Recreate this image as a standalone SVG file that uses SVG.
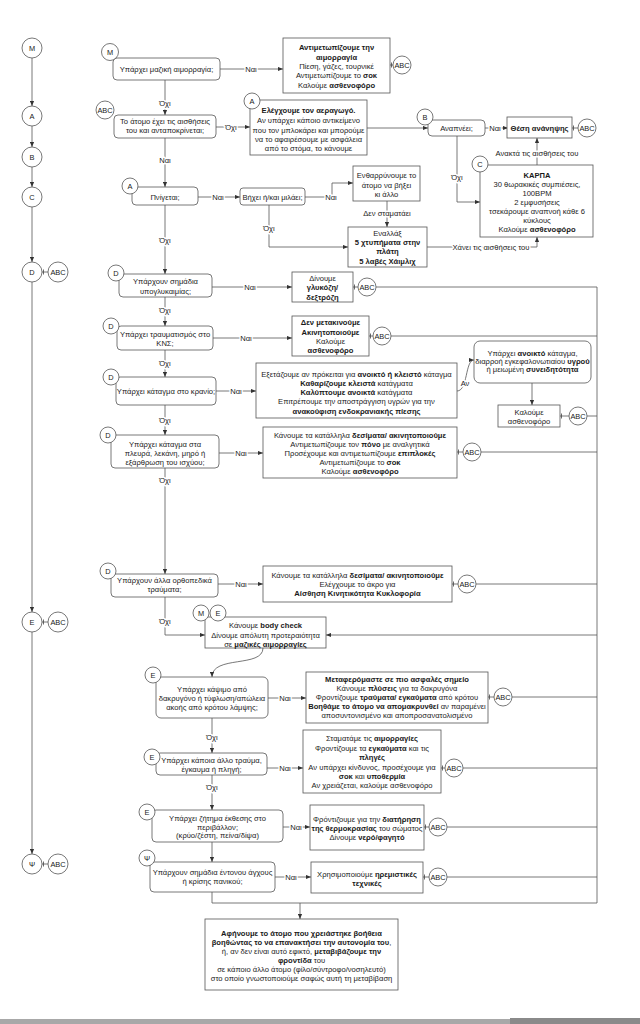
<svg xmlns="http://www.w3.org/2000/svg" width="640" height="1024" viewBox="0 0 640 1024">
<style>
text{font-family:"Liberation Sans",Arial,"DejaVu Sans",sans-serif;font-size:7.6px;fill:#1a1a1a;text-anchor:middle;dominant-baseline:central}
.b{font-weight:bold}
.box{fill:#fff;stroke:#555;stroke-width:0.8}
.cir{fill:#fff;stroke:#555;stroke-width:0.8}
.ln{fill:none;stroke:#555;stroke-width:0.8}
.ar{marker-end:url(#ah)}
.tk{marker-start:url(#tick)}
.lbl{paint-order:stroke;stroke:#fff;stroke-width:3px;stroke-linejoin:round}
.cl{font-size:7.4px}
</style>
<defs>
<marker id="ah" viewBox="0 0 6 6" refX="6" refY="3" markerWidth="5" markerHeight="5" markerUnits="userSpaceOnUse" orient="auto"><path d="M0,0.5L6,3L0,5.5z" fill="#333"/></marker>
<marker id="tick" viewBox="0 0 4 6" refX="0" refY="3" markerWidth="4" markerHeight="6" markerUnits="userSpaceOnUse" orient="auto"><path d="M1.5,0.5V5.5" stroke="#444" stroke-width="0.8"/></marker>
</defs>
<rect width="640" height="1024" fill="#fff"/>

<g id="connectors">
<path class="ln ar" d="M32,58V106"/>
<path class="ln ar" d="M32,126V147"/>
<path class="ln ar" d="M32,167V187"/>
<path class="ln ar" d="M32,207V262"/>
<path class="ln ar" d="M32,282V612"/>
<path class="ln ar" d="M32,632V854"/>
<path class="ln tk" d="M42,272H48"/>
<path class="ln tk" d="M42,622H48"/>
<path class="ln tk" d="M42,864H48"/>
<path class="ln ar" d="M220,69H283"/>
<text class="lbl" x="251" y="69">Ναι</text>
<path class="ln tk" d="M390,65H393"/>
<path class="ln ar" d="M165,80V115"/>
<text class="lbl" x="165" y="103">Όχι</text>
<path class="ln ar" d="M216,127H250"/>
<text class="lbl" x="231" y="127">Όχι</text>
<path class="ln ar" d="M367,128H428"/>
<path class="ln ar" d="M485,128H508"/>
<text class="lbl" x="495" y="128">Ναι</text>
<path class="ln tk" d="M572,128H578"/>
<path class="ln ar" d="M457,136V202H480"/>
<text class="lbl" x="457" y="177">Όχι</text>
<path class="ln ar" d="M537,165V138"/>
<text class="lbl" x="537" y="153">Ανακτά τις αισθήσεις του</text>
<path class="ln ar" d="M165,138V187"/>
<text class="lbl" x="165" y="160">Ναι</text>
<path class="ln ar" d="M198,197H240"/>
<text class="lbl" x="218" y="197">Ναι</text>
<path class="ln ar" d="M305,197H332V183H353"/>
<text class="lbl" x="331" y="197">Ναι</text>
<path class="ln ar" d="M387,201V227"/>
<text class="lbl" x="387" y="213">Δεν σταματάει</text>
<path class="ln ar" d="M269,205V247H348"/>
<text class="lbl" x="269" y="228">Όχι</text>
<path class="ln ar" d="M427,247H537V237"/>
<text class="lbl" x="491" y="247">Χάνει τις αισθήσεις του</text>
<path class="ln ar" d="M165,205V274"/>
<text class="lbl" x="165" y="240">Όχι</text>
<path class="ln ar" d="M212,287H292"/>
<text class="lbl" x="250" y="287">Ναι</text>
<path class="ln tk" d="M353,287H358"/>
<path class="ln" d="M376,287H597V903"/>
<path class="ln ar" d="M165,297V326"/>
<text class="lbl" x="165" y="310">Όχι</text>
<path class="ln ar" d="M213,338H292"/>
<text class="lbl" x="246" y="338">Ναι</text>
<path class="ln tk" d="M369,336H373"/>
<path class="ln" d="M391,336H597"/>
<path class="ln ar" d="M165,350V377"/>
<text class="lbl" x="165" y="363">Όχι</text>
<path class="ln ar" d="M216,391H256"/>
<text class="lbl" x="236" y="391">Ναι</text>
<path class="ln ar" d="M457,391C468,391 465,360 474,360"/>
<text class="lbl" x="465" y="383">Αν</text>
<path class="ln ar" d="M532,383V405"/>
<path class="ln tk" d="M560,416H569"/>
<path class="ln" d="M587,416H597"/>
<path class="ln ar" d="M165,405V435"/>
<text class="lbl" x="165" y="420">Όχι</text>
<path class="ln ar" d="M219,453H263"/>
<text class="lbl" x="241" y="453">Ναι</text>
<path class="ln tk" d="M457,452H463"/>
<path class="ln" d="M481,452H597"/>
<path class="ln ar" d="M165,468V574"/>
<text class="lbl" x="165" y="480">Όχι</text>
<path class="ln ar" d="M218,584H263"/>
<text class="lbl" x="241" y="584">Ναι</text>
<path class="ln tk" d="M452,584H458"/>
<path class="ln" d="M476,584H597"/>
<path class="ln ar" d="M165,597V635H205"/>
<text class="lbl" x="165" y="621">Όχι</text>
<path class="ln ar" d="M597,635H326"/>
<path class="ln ar" d="M263,648C263,668 212,655 212,677"/>
<path class="ln ar" d="M267,698H306"/>
<text class="lbl" x="285" y="698">Ναι</text>
<path class="ln tk" d="M488,697H494"/>
<path class="ln" d="M512,697H597"/>
<path class="ln ar" d="M212,718V753"/>
<text class="lbl" x="212" y="737">Όχι</text>
<path class="ln ar" d="M267,768H303"/>
<text class="lbl" x="285" y="768">Ναι</text>
<path class="ln tk" d="M441,768H445"/>
<path class="ln" d="M463,768H597"/>
<path class="ln ar" d="M212,775V810"/>
<text class="lbl" x="212" y="787">Όχι</text>
<path class="ln ar" d="M283,827H310"/>
<text class="lbl" x="296" y="827">Ναι</text>
<path class="ln tk" d="M424,827H429"/>
<path class="ln" d="M447,827H597"/>
<path class="ln ar" d="M212,842V862"/>
<path class="ln ar" d="M275,877H311"/>
<text class="lbl" x="291" y="877">Ναι</text>
<path class="ln tk" d="M423,877H429"/>
<path class="ln" d="M447,877H597"/>
<path class="ln" d="M212,892V903H597"/>
<path class="ln ar" d="M300,903V919"/>
</g>

<g id="side-M"><circle class="cir" cx="32" cy="48" r="10"/><text class="cl" x="32" y="48">M</text></g>
<g id="side-A"><circle class="cir" cx="32" cy="116" r="10"/><text class="cl" x="32" y="116">A</text></g>
<g id="side-B"><circle class="cir" cx="32" cy="157" r="10"/><text class="cl" x="32" y="157">B</text></g>
<g id="side-C"><circle class="cir" cx="32" cy="197" r="10"/><text class="cl" x="32" y="197">C</text></g>
<g id="side-D"><circle class="cir" cx="32" cy="272" r="10"/><text class="cl" x="32" y="272">D</text><circle class="cir" cx="58" cy="272" r="10"/><text class="cl" x="58" y="272">ABC</text></g>
<g id="side-E"><circle class="cir" cx="32" cy="622" r="10"/><text class="cl" x="32" y="622">E</text><circle class="cir" cx="58" cy="622" r="10"/><text class="cl" x="58" y="622">ABC</text></g>
<g id="side-Psi"><circle class="cir" cx="32" cy="864" r="10"/><text class="cl" x="32" y="864">Ψ</text><circle class="cir" cx="58" cy="864" r="10"/><text class="cl" x="58" y="864">ABC</text></g>

<g id="q-bleed"><rect class="box" x="113" y="58" width="107" height="22" rx="4"/><circle class="cir" cx="110" cy="52" r="8.5"/><text class="cl" x="110" y="52">M</text><text x="166.5" y="69">Υπάρχει μαζική αιμορραγία;</text></g>
<g id="a-bleed"><rect class="box" x="283" y="38" width="107" height="55"/>
<text x="336.5" y="47" class="b">Αντιμετωπίζουμε την</text>
<text x="336.5" y="57" class="b">αιμορραγία</text>
<text x="336.5" y="66">Πίεση, γάζες, τουρνικέ</text>
<text x="336.5" y="75">Αντιμετωπίζουμε το <tspan class="b">σοκ</tspan></text>
<text x="336.5" y="85">Καλούμε <tspan class="b">ασθενοφόρο</tspan></text>
<circle class="cir" cx="402" cy="65" r="9"/><text class="cl" x="402" y="65">ABC</text></g>

<g id="q-conscious"><rect class="box" x="114" y="115" width="102" height="23" rx="4"/><circle class="cir" cx="105" cy="110" r="9"/><text class="cl" x="105" y="110">ABC</text>
<text x="165" y="121">Το άτομο έχει τις αισθήσεις</text><text x="165" y="130">του και ανταποκρίνεται;</text></g>

<g id="a-airway"><rect class="box" x="250" y="100" width="117" height="55"/><circle class="cir" cx="252" cy="101" r="8"/><text class="cl" x="252" y="101">A</text>
<text x="308.5" y="110" class="b">Ελέγχουμε τον αεραγωγό.</text>
<text x="308.5" y="120">Αν υπάρχει κάποιο αντικείμενο</text>
<text x="308.5" y="130">που τον μπλοκάρει και μπορούμε</text>
<text x="308.5" y="139">να το αφαιρέσουμε με ασφάλεια</text>
<text x="308.5" y="148">από το στόμα, το κάνουμε</text></g>

<g id="q-breath"><rect class="box" x="428" y="120" width="57" height="16" rx="4"/><circle class="cir" cx="425" cy="117" r="8"/><text class="cl" x="425" y="117">B</text><text x="456.5" y="128">Αναπνέει;</text></g>
<g id="a-recovery"><rect class="box" x="507" y="117" width="65" height="21"/><text x="539.5" y="128" class="b">Θέση ανάνηψης</text><circle class="cir" cx="587" cy="128" r="9"/><text class="cl" x="587" y="128">ABC</text></g>

<g id="a-cpr"><rect class="box" x="480" y="165" width="113" height="72"/><circle class="cir" cx="480" cy="164" r="8"/><text class="cl" x="480" y="164">C</text>
<text x="537" y="175" class="b">ΚΑΡΠΑ</text>
<text x="537" y="184">30 θωρακικές συμπιέσεις,</text>
<text x="537" y="193">100BPM</text>
<text x="537" y="202">2 εμφυσήσεις</text>
<text x="537" y="211">τσεκάρουμε αναπνοή κάθε 6</text>
<text x="537" y="220">κύκλους</text>
<text x="537" y="229">Καλούμε <tspan class="b">ασθενοφόρο</tspan></text></g>

<g id="q-choke"><rect class="box" x="132" y="187" width="66" height="18" rx="4"/><circle class="cir" cx="130" cy="186" r="8"/><text class="cl" x="130" y="186">A</text><text x="165" y="197">Πνίγεται;</text></g>
<g id="q-cough"><rect class="box" x="240" y="188" width="65" height="17" rx="3"/><text x="272.5" y="197">Βήχει ή/και μιλάει;</text></g>
<g id="a-encourage"><rect class="box" x="353" y="166" width="67" height="35"/><text x="386.5" y="175">Ενθαρρύνουμε το</text><text x="386.5" y="185">άτομο να βήξει</text><text x="386.5" y="194">κι άλλο</text></g>
<g id="a-heimlich"><rect class="box" x="348" y="227" width="79" height="40"/>
<text x="387.5" y="233">Εναλλάξ</text>
<text x="387.5" y="242" class="b">5 χτυπήματα στην</text>
<text x="387.5" y="251" class="b">πλάτη</text>
<text x="387.5" y="261" class="b">5 λαβές Χάιμλιχ</text></g>

<g id="q-hypo"><rect class="box" x="119" y="274" width="93" height="23" rx="4"/><circle class="cir" cx="116" cy="273" r="8"/><text class="cl" x="116" y="273">D</text><text x="165.5" y="281">Υπάρχουν σημάδια</text><text x="165.5" y="291">υπογλυκαιμίας;</text></g>
<g id="a-hypo"><rect class="box" x="292" y="272" width="61" height="30"/><text x="322.5" y="278">Δίνουμε</text><text x="322.5" y="287" class="b">γλυκόζη/</text><text x="322.5" y="297" class="b">δεξτρόζη</text><circle class="cir" cx="367" cy="287" r="9"/><text class="cl" x="367" y="287">ABC</text></g>

<g id="q-cns"><rect class="box" x="117" y="326" width="96" height="24" rx="4"/><circle class="cir" cx="111" cy="326" r="8"/><text class="cl" x="111" y="326">D</text><text x="165" y="334">Υπάρχει τραυματισμός στο</text><text x="165" y="343">ΚΝΣ;</text></g>
<g id="a-cns"><rect class="box" x="292" y="316" width="77" height="40"/><text x="330.5" y="322" class="b">Δεν μετακινούμε</text><text x="330.5" y="332" class="b">Ακινητοποιούμε</text><text x="330.5" y="341">Καλούμε</text><text x="330.5" y="350" class="b">ασθενοφόρο</text><circle class="cir" cx="382" cy="336" r="9"/><text class="cl" x="382" y="336">ABC</text></g>

<g id="q-skull"><rect class="box" x="116" y="377" width="100" height="28" rx="4"/><circle class="cir" cx="111" cy="377" r="8"/><text class="cl" x="111" y="377">D</text><text x="166" y="391">Υπάρχει κάταγμα στο κρανίο;</text></g>
<g id="a-skull"><rect class="box" x="256" y="363" width="201" height="55"/>
<text x="356.5" y="374">Εξετάζουμε αν πρόκειται για <tspan class="b">ανοικτό ή κλειστό</tspan> κάταγμα</text>
<text x="356.5" y="383"><tspan class="b">Καθαρίζουμε κλειστά</tspan> κατάγματα</text>
<text x="356.5" y="392"><tspan class="b">Καλύπτουμε ανοικτά</tspan> κατάγματα</text>
<text x="356.5" y="401">Επιτρέπουμε την αποστράγγιση υγρών για την</text>
<text x="356.5" y="411" class="b">ανακούφιση ενδοκρανιακής πίεσης</text></g>
<g id="q-open"><rect class="box" x="474" y="341" width="117" height="42" rx="6"/>
<text x="532.5" y="353">Υπάρχει <tspan class="b">ανοικτό</tspan> κάταγμα,</text>
<text x="532.5" y="361">διαρροή εγκεφαλονωτιαίου <tspan class="b">υγρού</tspan></text>
<text x="532.5" y="369">ή μειωμένη <tspan class="b">συνειδητότητα</tspan></text></g>
<g id="a-open"><rect class="box" x="498" y="405" width="62" height="22"/><text x="529" y="412">Καλούμε</text><text x="529" y="421">ασθενοφόρο</text><circle class="cir" cx="578" cy="416" r="9"/><text class="cl" x="578" y="416">ABC</text></g>

<g id="q-pelvis"><rect class="box" x="111" y="435" width="108" height="33" rx="4"/><circle class="cir" cx="108" cy="435" r="8"/><text class="cl" x="108" y="435">D</text>
<text x="165" y="444">Υπάρχει κάταγμα στα</text><text x="165" y="453">πλευρά, λεκάνη, μηρό ή</text><text x="165" y="462">εξάρθρωση του ισχύου;</text></g>
<g id="a-pelvis"><rect class="box" x="263" y="427" width="194" height="51"/>
<text x="360" y="435">Κάνουμε τα κατάλληλα <tspan class="b">δεσίματα/ ακινητοποιούμε</tspan></text>
<text x="360" y="444">Αντιμετωπίζουμε τον <tspan class="b">πόνο</tspan> με αναλγητικά</text>
<text x="360" y="453">Προσέχουμε και αντιμετωπίζουμε <tspan class="b">επιπλοκές</tspan></text>
<text x="360" y="462">Αντιμετωπίζουμε το <tspan class="b">σοκ</tspan></text>
<text x="360" y="471">Καλούμε <tspan class="b">ασθενοφόρο</tspan></text>
<circle class="cir" cx="472" cy="452" r="9"/><text class="cl" x="472" y="452">ABC</text></g>

<g id="q-ortho"><rect class="box" x="111" y="574" width="107" height="23" rx="4"/><circle class="cir" cx="108" cy="571" r="8"/><text class="cl" x="108" y="571">D</text><text x="164.5" y="580">Υπάρχουν άλλα ορθοπεδικά</text><text x="164.5" y="589">τραύματα;</text></g>
<g id="a-ortho"><rect class="box" x="263" y="566" width="189" height="36"/>
<text x="357.5" y="575">Κάνουμε τα κατάλληλα <tspan class="b">δεσίματα/ ακινητοποιούμε</tspan></text>
<text x="357.5" y="584">Ελέγχουμε το άκρο για</text>
<text x="357.5" y="593" class="b">Αίσθηση Κινητικότητα Κυκλοφορία</text>
<circle class="cir" cx="467" cy="584" r="9"/><text class="cl" x="467" y="584">ABC</text></g>

<g id="a-bodycheck"><rect class="box" x="205" y="617" width="121" height="31"/><circle class="cir" cx="201" cy="613" r="8"/><text class="cl" x="201" y="613">M</text><circle class="cir" cx="218" cy="613" r="8"/><text class="cl" x="218" y="613">E</text>
<text x="265.5" y="625">Κάνουμε <tspan class="b">body check</tspan></text>
<text x="265.5" y="635">Δίνουμε απόλυτη προτεραιότητα</text>
<text x="265.5" y="644">σε <tspan class="b">μαζικές αιμορραγίες</tspan></text></g>

<g id="q-teargas"><rect class="box" x="156" y="677" width="112" height="41" rx="5"/><circle class="cir" cx="153" cy="675" r="8"/><text class="cl" x="153" y="675">E</text>
<text x="212" y="689">Υπάρχει κάψιμο από</text><text x="212" y="698">δακρυγόνο ή τύφλωση/απώλεια</text><text x="212" y="707">ακοής από κρότου λάμψης;</text></g>
<g id="a-teargas"><rect class="box" x="306" y="672" width="182" height="51"/>
<text x="397" y="679" class="b">Μεταφερόμαστε σε πιο ασφαλές σημείο</text>
<text x="397" y="688">Κάνουμε <tspan class="b">πλύσεις</tspan> για τα δακρυγόνα</text>
<text x="397" y="697">Φροντίζουμε <tspan class="b">τραύματα/ εγκαύματα</tspan> από κρότου</text>
<text x="397" y="706"><tspan class="b">Βοηθάμε το άτομο να απομακρυνθεί</tspan> αν παραμένει</text>
<text x="397" y="715">αποσυντονισμένο και αποπροσανατολισμένο</text>
<circle class="cir" cx="503" cy="697" r="9"/><text class="cl" x="503" y="697">ABC</text></g>

<g id="q-wound"><rect class="box" x="156" y="753" width="111" height="22" rx="4"/><circle class="cir" cx="152" cy="757" r="8"/><text class="cl" x="152" y="757">E</text>
<text x="211.5" y="760">Υπάρχει κάποια άλλο τραύμα,</text><text x="211.5" y="769">έγκαυμα ή πληγή;</text></g>
<g id="a-wound"><rect class="box" x="303" y="730" width="138" height="63"/>
<text x="372" y="738">Σταματάμε τις <tspan class="b">αιμορραγίες</tspan></text>
<text x="372" y="748">Φροντίζουμε τα <tspan class="b">εγκαύματα</tspan> και τις</text>
<text x="372" y="757" class="b">πληγές</text>
<text x="372" y="767">Αν υπάρχει κίνδυνος, προσέχουμε για</text>
<text x="372" y="776"><tspan class="b">σοκ</tspan> και <tspan class="b">υποθερμία</tspan></text>
<text x="372" y="785">Αν χρειάζεται, καλούμε ασθενοφόρο</text>
<circle class="cir" cx="454" cy="768" r="9"/><text class="cl" x="454" y="768">ABC</text></g>

<g id="q-exposure"><rect class="box" x="152" y="810" width="131" height="32" rx="4"/><circle class="cir" cx="147" cy="812" r="8"/><text class="cl" x="147" y="812">E</text>
<text x="217.5" y="818">Υπάρχει ζήτημα έκθεσης στο</text><text x="217.5" y="827">περιβάλλον;</text><text x="217.5" y="835">(κρύο/ζέστη, πείνα/δίψα)</text></g>
<g id="a-exposure"><rect class="box" x="310" y="805" width="114" height="45"/>
<text x="367" y="819">Φρόντιζουμε για την <tspan class="b">διατήρηση</tspan></text>
<text x="367" y="828"><tspan class="b">της θερμοκρασίας</tspan> του σώματος</text>
<text x="367" y="837">Δίνουμε <tspan class="b">νερό/φαγητό</tspan></text>
<circle class="cir" cx="438" cy="827" r="9"/><text class="cl" x="438" y="827">ABC</text></g>

<g id="q-panic"><rect class="box" x="150" y="862" width="125" height="30" rx="4"/><circle class="cir" cx="147" cy="858" r="8"/><text class="cl" x="147" y="858">Ψ</text>
<text x="212.5" y="872">Υπάρχουν σημάδια έντονου άγχους</text><text x="212.5" y="881">ή κρίσης πανικού;</text></g>
<g id="a-panic"><rect class="box" x="311" y="862" width="112" height="31"/>
<text x="367" y="874">Χρησιμοποιούμε <tspan class="b">ηρεμιστικές</tspan></text>
<text x="367" y="883" class="b">τεχνικές</text>
<circle class="cir" cx="438" cy="877" r="9"/><text class="cl" x="438" y="877">ABC</text></g>

<g id="a-final"><rect class="box" x="205" y="919" width="193" height="71"/>
<text x="301.5" y="933" class="b">Αφήνουμε το άτομο που χρειάστηκε βοήθεια</text>
<text x="301.5" y="942"><tspan class="b">βοηθώντας το να επανακτήσει την αυτονομία του</tspan>,</text>
<text x="301.5" y="951">ή, αν δεν είναι αυτό εφικτό, <tspan class="b">μεταβιβάζουμε την</tspan></text>
<text x="301.5" y="960"><tspan class="b">φροντίδα</tspan> του</text>
<text x="301.5" y="969">σε κάποιο άλλο άτομο (φίλο/σύντροφο/νοσηλευτό)</text>
<text x="301.5" y="978">στο οποίο γνωστοποιούμε σαφώς αυτή τη μεταβίβαση</text></g>

<rect x="0" y="1019" width="640" height="5" fill="#a8a8a8"/>
<rect x="510" y="1018" width="130" height="6" fill="#8a8a8a"/>
</svg>
